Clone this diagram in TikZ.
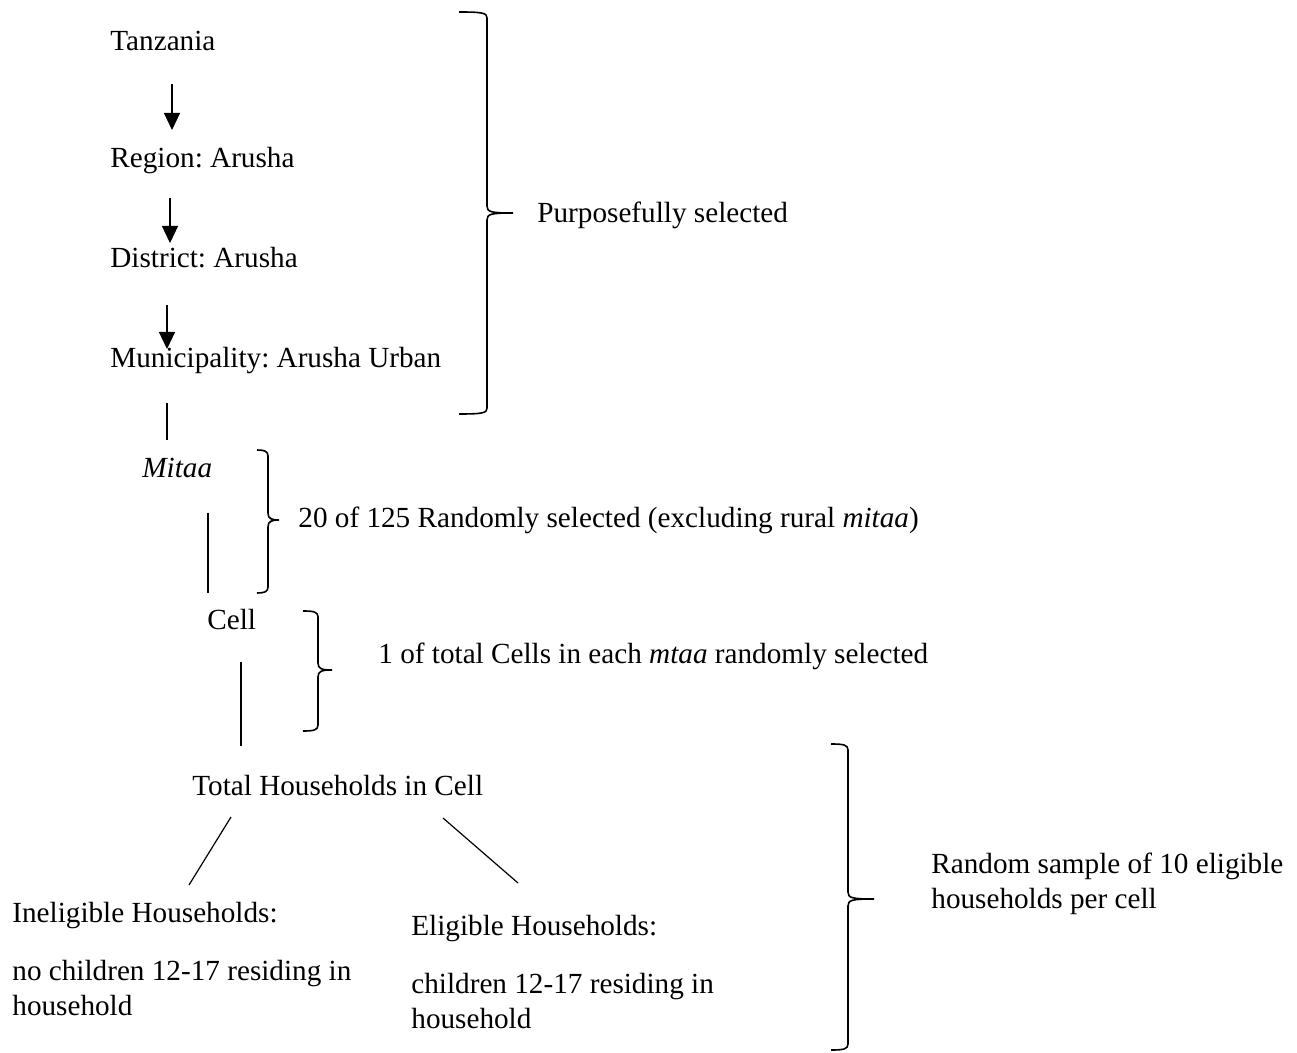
\documentclass[tikz,border=0pt]{standalone}
\usepackage{fontspec}
\setmainfont{Liberation Serif}
\frenchspacing
\usetikzlibrary{arrows.meta}

% right-hand brace: left end x, top y, bottom y, spine x, tip x, tip y
\newcommand{\sidebrace}[6]{%
	\draw[bracepen] (#1,#2) .. controls (#4-4,#2) and (#4,#2+1) .. (#4,#2+6)
		-- (#4,#6-7) .. controls (#4,#6-1) and (#4+4,#6) .. (#5,#6)
		.. controls (#4+4,#6) and (#4,#6+1) .. (#4,#6+7)
		-- (#4,#3-6) .. controls (#4,#3-1) and (#4-4,#3) .. (#1,#3);}

\tikzset{
	lbl/.style={anchor=base west,inner sep=0pt,font=\fontsize{14.6}{17.5}\selectfont},
	twoline/.style={lbl,align=left},
	link/.style={line width=0.6pt},
	bracepen/.style={line width=0.8pt}
}

\begin{document}
\begin{tikzpicture}[x=0.5pt,y=-0.5pt,>={Triangle[length=8.5pt,width=8pt]}]
	\useasboundingbox (0,0) rectangle (1297,1053);

	%levels
	\node[lbl] (tz)  at (110,51)  {Tanzania};
	\node[lbl] (rg)  at (110,168) {Region: Arusha};
	\node[lbl] (dt)  at (110,268) {District: Arusha};
	\node[lbl] (mun) at (110,368) {Municipality: Arusha Urban};
	\node[lbl] (mt)  at (142,478) {\textit{Mitaa}};
	\node[lbl] (cl)  at (207,630) {Cell};
	\node[lbl] (hh)  at (192,795) {Total Households in Cell};
	%
	\node[lbl] (inel)  at (12,922)  {Ineligible Households:};
	\node[twoline] (ineld) at (12,1015) {no children 12-17 residing in\\household};  %base = last line
	\node[lbl] (el)    at (411,935) {Eligible Households:};
	\node[twoline] (eld)   at (411,1028) {children 12-17 residing in\\household};

	%connector ends
	\coordinate (tzB)  at (172,84);   \coordinate (rgT)  at (172,130);
	\coordinate (rgB)  at (170,198);  \coordinate (dtT)  at (170,243);
	\coordinate (dtB)  at (167,305);  \coordinate (munT) at (167,349);
	\coordinate (munB) at (167,403);  \coordinate (mtT)  at (167,440);
	\coordinate (mtB)  at (208,513);  \coordinate (clT)  at (208,593);
	\coordinate (clB)  at (241,662);  \coordinate (hhT)  at (241,746);
	\coordinate (hhL)  at (231,817);  \coordinate (inelT) at (189,885);
	\coordinate (hhR)  at (443,818);  \coordinate (elT)  at (518,883);

	%arrows
	\draw[link,->] (tzB)--(rgT);
	\draw[link,->] (rgB)--(dtT);
	\draw[link,->] (dtB)--(munT);

	%plain lines
	\draw[link] (munB)--(mtT);
	\draw[link] (mtB)--(clT);
	\draw[link] (clB)--(hhT);
	\draw[link] (hhL)--(inelT);
	\draw[link] (hhR)--(elT);

	%braces
	\sidebrace{459}{12}{414}{487}{513}{213}
	\sidebrace{257}{450}{593}{268}{279}{520}
	\sidebrace{303}{611}{731}{318}{332}{670}
	\sidebrace{831}{744}{1050}{848}{874}{899}

	%brace labels
	\node[lbl] (purp) at (537,223) {Purposefully selected};
	\node[lbl] (rnd)  at (298,528) {20 of 125 Randomly selected (excluding rural \textit{mitaa})};
	\node[lbl] (one)  at (378,663) {1 of total Cells in each \textit{mtaa} randomly selected};
	\node[twoline] (smp) at (931,908) {Random sample of 10 eligible\\households per cell};
\end{tikzpicture}
\end{document}
